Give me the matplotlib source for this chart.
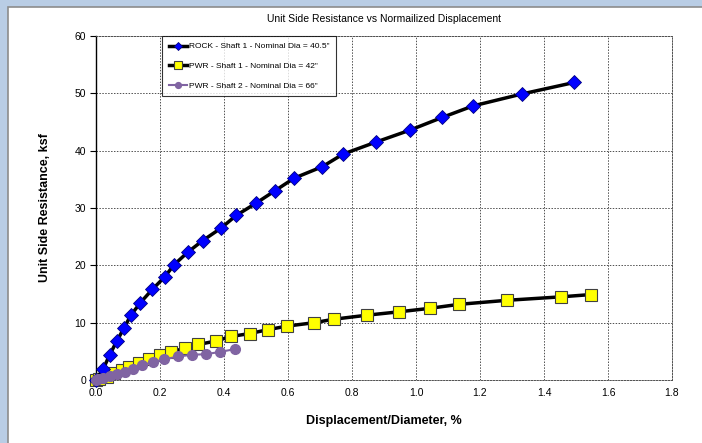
import matplotlib
matplotlib.use("Agg")
import matplotlib.pyplot as plt
from matplotlib.patches import Rectangle

# Data
rock_x = [0, 0.023, 0.043, 0.065, 0.087, 0.109, 0.139, 0.176, 0.215, 0.244, 0.287, 0.333,
          0.391, 0.438, 0.499, 0.559, 0.619, 0.707, 0.772, 0.875, 0.982, 1.082, 1.178, 1.332, 1.495]
rock_y = [0, 2.0, 4.4, 6.8, 9.0, 11.3, 13.5, 15.8, 18.0, 20.1, 22.3, 24.3,
          26.5, 28.7, 30.8, 33.0, 35.2, 37.2, 39.4, 41.5, 43.6, 45.8, 47.8, 49.9, 51.9]

pwr1_x = [0, 0.01, 0.033, 0.056, 0.08, 0.104, 0.134, 0.165, 0.2, 0.233, 0.277, 0.32, 0.375,
          0.423, 0.48, 0.539, 0.597, 0.682, 0.743, 0.846, 0.948, 1.043, 1.135, 1.284, 1.452, 1.546]
pwr1_y = [0, 0.2, 0.6, 1.2, 1.7, 2.3, 2.9, 3.6, 4.3, 4.9, 5.5, 6.2, 6.8,
          7.6, 8.1, 8.8, 9.4, 10.0, 10.6, 11.3, 11.9, 12.5, 13.2, 13.9, 14.5, 14.9]

pwr2_x = [0, 0.007, 0.023, 0.044, 0.065, 0.09, 0.115, 0.145, 0.177, 0.213, 0.257, 0.3,
          0.343, 0.388, 0.435]
pwr2_y = [0, 0.1, 0.3, 0.7, 1.0, 1.4, 2.0, 2.6, 3.1, 3.6, 4.1, 4.4, 4.5, 4.9, 5.4]

labels = ['ROCK - Shaft 1 - Nominal Dia = 40.5"',
          'PWR - Shaft 1 - Nominal Dia = 42"',
          'PWR - Shaft 2 - Nominal Dia = 66"']

x_ticks = [0.0, 0.2, 0.4, 0.6, 0.8, 1.0, 1.2, 1.4, 1.6, 1.8]
y_ticks = [0, 10, 20, 30, 40, 50, 60]

plt.rcParams['font.family'] = ['Liberation Sans', 'DejaVu Sans']

fig = plt.figure(figsize=(7.02, 4.43), dpi=100)
fig.patch.set_facecolor("#b9cde5")
# white chart panel with a thin gray edge
fig.patches.append(Rectangle((8 / 702, -0.01), 1, 1.01 - 7 / 443, transform=fig.transFigure,
                             facecolor="white", edgecolor="#8c8c8c", linewidth=1.2, zorder=-5))

ax = fig.add_axes([96 / 702, 1 - 380 / 443, 576 / 702, 344 / 443])
ax.set_zorder(2)
ax.set_facecolor("white")

ax.plot(rock_x, rock_y, color="black", linewidth=2.5, marker="D", markersize=7.5,
        markerfacecolor="#0000ff", markeredgecolor="#000080", markeredgewidth=0.6,
        label=labels[0], zorder=4, clip_on=False)
ax.plot(pwr1_x, pwr1_y, color="black", linewidth=2.5, marker="s", markersize=9,
        markerfacecolor="#ffff00", markeredgecolor="#404040", markeredgewidth=0.8,
        label=labels[1], zorder=3, clip_on=False)
ax.plot(pwr2_x, pwr2_y, color="#8064a2", linewidth=1.5, marker="o", markersize=7,
        markerfacecolor="#8064a2", markeredgecolor="#8064a2",
        label=labels[2], zorder=5, clip_on=False)

ax.set_xlim(0, 1.8)
ax.set_ylim(0, 60)
ax.set_xticks(x_ticks)
ax.set_xticklabels([f"{t:.1f}" for t in x_ticks], fontsize=7.5)
ax.set_yticks(y_ticks)
ax.set_yticklabels([str(t) for t in y_ticks], fontsize=7.5)
ax.tick_params(axis="x", length=0, pad=6)
ax.tick_params(axis="y", length=4, width=0.8, pad=3)

ax.grid(True, linestyle=(0, (1.5, 1.5)), color="#505050", linewidth=0.7)
ax.set_axisbelow(True)
for side in ["top", "right", "bottom"]:
    ax.spines[side].set_linestyle((0, (1.5, 1.5)))
    ax.spines[side].set_color("#505050")
    ax.spines[side].set_linewidth(0.7)
ax.spines["left"].set_color("black")
ax.spines["left"].set_linewidth(1.0)

ax.set_title("Unit Side Resistance vs Normailized Displacement", fontsize=7.5, pad=10,
             family=['Liberation Sans Narrow', 'Liberation Sans'])
ax.set_xlabel("Displacement/Diameter, %", fontsize=9, fontweight="bold", labelpad=12)
ax.set_ylabel("Unit Side Resistance, ksf", fontsize=9, fontweight="bold", labelpad=17)

leg = ax.legend(loc="upper left", bbox_to_anchor=(66 / 576, 1.0), fontsize=6,
                frameon=True, fancybox=False, borderpad=0.8, labelspacing=1.4,
                handlelength=2.2, handletextpad=0.2, markerscale=0.6, borderaxespad=0)
leg.get_frame().set_edgecolor("black")
leg.get_frame().set_linewidth(0.8)
leg.set_zorder(10)

fig.savefig("out.png", dpi=100, facecolor=fig.get_facecolor())
